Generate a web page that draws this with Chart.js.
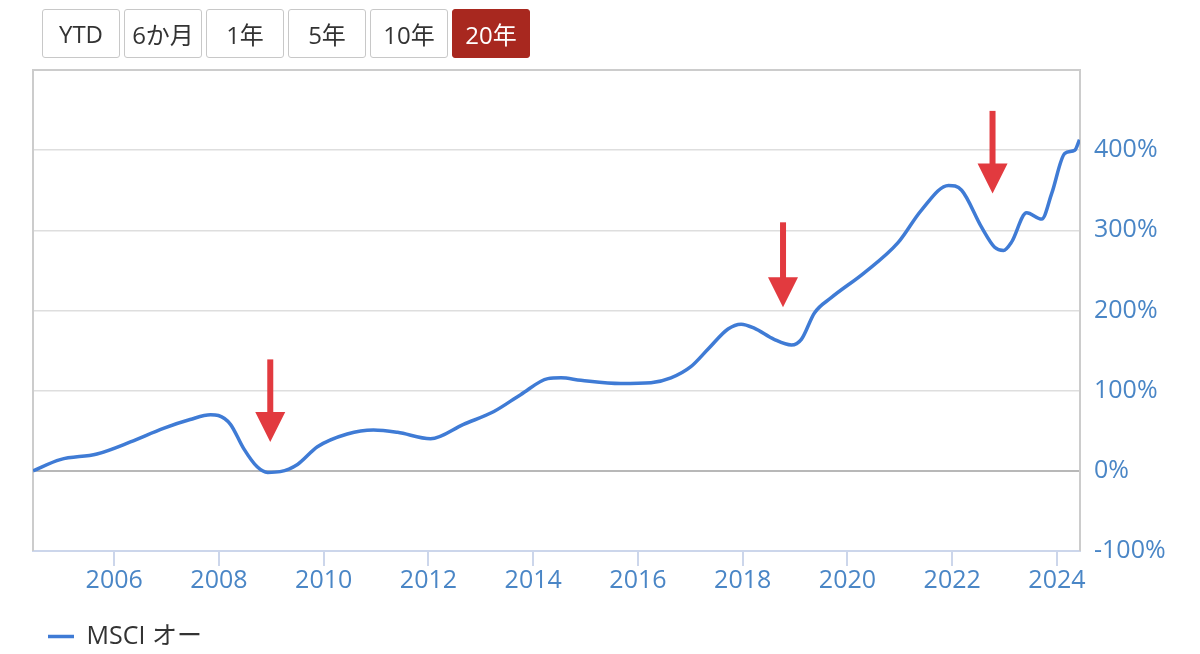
<!DOCTYPE html>
<html>
<head>
<meta charset="utf-8">
<script src="https://cdn.jsdelivr.net/npm/chart.js@4.4.0/dist/chart.umd.min.js"></script>
<style>
  html, body { margin: 0; padding: 0; background: #fff; }
  body { width: 1200px; height: 654px; position: relative; overflow: hidden;
         font-family: 'Open Sans', 'Noto Sans CJK JP', sans-serif; }
  #wrap { position: absolute; left: 0; top: 0; width: 1200px; height: 654px; }
  .btns { position: absolute; left: 42px; top: 9px; display: flex; gap: 4px; z-index: 2; }
  .btns button { width: 78px; height: 49px; font-family: inherit; font-size: 24px; color: #333;
                 background: #fff; border: 1.5px solid #c8c8c8; border-radius: 3px; padding: 0; }
  .btns button.active { background: #a8281f; border-color: #a8281f; color: #fff; }
</style>
</head>
<body>
<div class="btns">
  <button>YTD</button><button>6か月</button><button>1年</button><button>5年</button><button>10年</button><button class="active">20年</button>
</div>
<div id="wrap"><canvas id="myChart"></canvas></div>
<script>
// data (x = decimal year, y = % return)
const years = [2004.45, 2004.97, 2005.67, 2006.31, 2006.94, 2007.45, 2007.84, 2007.99, 2008.22, 2008.47,
  2008.73, 2008.93, 2009.17, 2009.50, 2009.88, 2010.45, 2010.95, 2011.41, 2012.04, 2012.67,
  2013.25, 2013.76, 2014.28, 2014.53, 2014.91, 2015.67, 2016.25, 2016.63, 2017.01, 2017.34,
  2017.72, 2017.97, 2018.22, 2018.60, 2018.93, 2019.12, 2019.37, 2019.69, 2020.32, 2020.97,
  2021.41, 2021.93, 2022.18, 2022.56, 2022.81, 2022.98, 2023.13, 2023.42, 2023.71, 2023.90,
  2024.15, 2024.34, 2024.43]
const values = [0, 14, 21, 36, 53, 64, 70, 69, 58, 28,
  5, -2, -1, 8, 30, 46, 51, 48, 40, 58,
  74, 95, 115, 116, 113, 109, 110, 116, 130, 152,
  177, 183, 178, 164, 157, 164, 197, 216, 247, 285,
  325, 356, 350, 304, 279, 275, 285, 322, 314, 346,
  396, 400, 413]
const seriesName = 'MSCI オー'
const xTicks = [2006, 2008, 2010, 2012, 2014, 2016, 2018, 2020, 2022, 2024]

// red arrows: year, value at top of shaft, value at the tip
const arrowYears = [2008.98, 2018.77, 2022.77]
const arrowTop = [139, 310, 449]
const arrowTip = [36, 204, 346]

const fontFamily = "'Open Sans', 'Noto Sans CJK JP', sans-serif"
const labelColor = '#4a86c6'

const plotBorder = {
  id: 'plotBorder',
  beforeDatasetsDraw(chart) {
    const a = chart.chartArea
    const c = chart.ctx
    c.save()
    c.strokeStyle = '#cccccc'
    c.lineWidth = 2
    c.beginPath()
    c.moveTo(a.left, a.bottom)
    c.lineTo(a.left, a.top)
    c.lineTo(a.right, a.top)
    c.lineTo(a.right, a.bottom)
    c.stroke()
    c.restore()
  }
}

const arrows = {
  id: 'arrows',
  afterDatasetsDraw(chart) {
    const xs = chart.scales.x
    const ys = chart.scales.y
    const c = chart.ctx
    c.save()
    c.fillStyle = '#e23a3f'
    for (let i = 0; i < arrowYears.length; i++) {
      const px = xs.getPixelForValue(arrowYears[i])
      const top = ys.getPixelForValue(arrowTop[i])
      const tip = ys.getPixelForValue(arrowTip[i])
      const head = 30
      c.fillRect(px - 3, top, 6, tip - top - head + 1)
      c.beginPath()
      c.moveTo(px - 15, tip - head)
      c.lineTo(px + 15, tip - head)
      c.lineTo(px, tip)
      c.closePath()
      c.fill()
    }
    c.restore()
  }
}

let ctx = document.getElementById('myChart').getContext('2d')
let myChart = new Chart(ctx, {
  type: 'line',
  data: {
    datasets: [{
      label: seriesName,
      data: years.map((y, i) => ({ x: y, y: values[i] })),
      borderColor: '#3f7bd5',
      backgroundColor: '#3f7bd5',
      borderWidth: 3.5,
      pointRadius: 0,
      cubicInterpolationMode: 'monotone',
      fill: false
    }]
  },
  options: {
    responsive: true,
    maintainAspectRatio: false,
    animation: false,
    layout: { padding: { left: 33, top: 70, right: 0, bottom: -5 } },
    plugins: {
      tooltip: { enabled: false },
      legend: {
        position: 'bottom',
        align: 'start',
        labels: {
          usePointStyle: true,
          pointStyle: 'line',
          pointStyleWidth: 26,
          padding: 15,
          color: '#333333',
          font: { family: fontFamily, size: 25 }
        }
      }
    },
    scales: {
      x: {
        type: 'linear',
        min: 2004.45,
        max: 2024.44,
        afterBuildTicks(s) { s.ticks = xTicks.map(v => ({ value: v })) },
        afterFit(s) { s.height = 58 },
        grid: { drawOnChartArea: false, drawTicks: true, tickLength: 15, color: '#ccd6eb', lineWidth: 2 },
        border: { color: '#ccd6eb', width: 2 },
        ticks: {
          color: labelColor,
          padding: 0,
          maxRotation: 0,
          font: { family: fontFamily, size: 25 },
          callback: v => String(v)
        }
      },
      y: {
        position: 'right',
        min: -100,
        max: 500,
        afterFit(s) { s.width = 120 },
        grid: {
          drawTicks: false,
          color: c => c.tick && c.tick.value === 0 ? '#b8b8b8' : '#dedede',
          lineWidth: c => c.tick && c.tick.value === 0 ? 2 : 1.5
        },
        border: { display: false },
        ticks: {
          stepSize: 100,
          padding: 14,
          color: labelColor,
          font: { family: fontFamily, size: 25 },
          callback: v => v === 500 ? '' : v + '%'
        }
      }
    }
  },
  plugins: [plotBorder, arrows]
})
</script>
</body>
</html>
